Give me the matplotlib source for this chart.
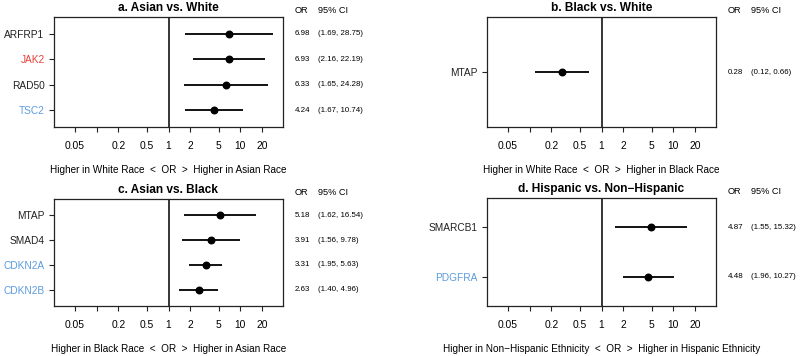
import matplotlib
matplotlib.use("Agg")
import matplotlib.pyplot as plt
import numpy as np

plt.rcParams["font.family"] = ["Liberation Sans", "DejaVu Sans"]

RED = "#e8413a"
BLUE = "#5b9be0"

# panel a
a_genes = ["ARFRP1", "JAK2", "RAD50", "TSC2"]
a_or = [6.98, 6.93, 6.33, 4.24]
a_lo = [1.69, 2.16, 1.65, 1.67]
a_hi = [28.75, 22.19, 24.28, 10.74]
a_colors = ["#222222", RED, "#222222", BLUE]

# panel b
b_genes = ["MTAP"]
b_or = [0.28]
b_lo = [0.12]
b_hi = [0.66]
b_colors = ["#222222"]

# panel c
c_genes = ["MTAP", "SMAD4", "CDKN2A", "CDKN2B"]
c_or = [5.18, 3.91, 3.31, 2.63]
c_lo = [1.62, 1.56, 1.95, 1.40]
c_hi = [16.54, 9.78, 5.63, 4.96]
c_colors = ["#222222", "#222222", BLUE, BLUE]

# panel d
d_genes = ["SMARCB1", "PDGFRA"]
d_or = [4.87, 4.48]
d_lo = [1.55, 1.96]
d_hi = [15.32, 10.27]
d_colors = ["#222222", BLUE]

x_ticks = [0.05, 0.1, 0.2, 0.5, 1, 2, 5, 10, 20]
x_tick_labels = ["0.05", "", "0.2", "0.5", "1", "2", "5", "10", "20"]

panels = [
    ("a. Asian vs. White", "Higher in White Race  <  OR  >  Higher in Asian Race",
     a_genes, a_or, a_lo, a_hi, a_colors, (54, 17, 127)),
    ("b. Black vs. White", "Higher in White Race  <  OR  >  Higher in Black Race",
     b_genes, b_or, b_lo, b_hi, b_colors, (487, 17, 127)),
    ("c. Asian vs. Black", "Higher in Black Race  <  OR  >  Higher in Asian Race",
     c_genes, c_or, c_lo, c_hi, c_colors, (54, 199, 306)),
    ("d. Hispanic vs. Non\u2212Hispanic",
     "Higher in Non\u2212Hispanic Ethnicity  <  OR  >  Higher in Hispanic Ethnicity",
     d_genes, d_or, d_lo, d_hi, d_colors, (487, 198, 306)),
]

W, H = 800, 356
fig = plt.figure(figsize=(W / 100, H / 100), dpi=100)
ax_w = 229

for title, xlabel, genes, ors, los, his, colors, (left, top, bottom) in panels:
    ax = fig.add_axes([left / W, 1 - bottom / H, ax_w / W, (bottom - top) / H])
    n = len(genes)
    ypos = np.arange(n, 0, -1)
    ax.hlines(ypos, los, his, color="black", lw=1.3)
    ax.plot(ors, ypos, "o", color="black", markersize=4.7)
    ax.axvline(1, color="black", lw=1.1)
    ax.set_xscale("log")
    ax.set_xlim(1 / 39.2, 39.2)
    pad = {1: 1.0, 2: 0.6, 4: 0.65}[n]
    ax.set_ylim(1 - pad, n + pad)
    ax.set_xticks(x_ticks)
    ax.set_xticklabels(x_tick_labels, fontsize=7.4)
    ax.xaxis.set_minor_locator(matplotlib.ticker.NullLocator())
    ax.set_yticks(ypos)
    ax.set_yticklabels(genes, fontsize=7.3)
    for lab, c in zip(ax.get_yticklabels(), colors):
        lab.set_color(c)
    ax.tick_params(axis="both", length=3.8, width=0.8, color="#222222")
    ax.tick_params(axis="x", pad=6.5)
    ax.tick_params(axis="y", pad=3)
    for s in ax.spines.values():
        s.set_linewidth(0.9)
        s.set_color("#222222")
    ax.set_title(title, fontsize=8.6, fontweight="bold", pad=4)
    ax.set_xlabel(xlabel, fontsize=7.2, labelpad=10)

    # OR / CI columns
    tr = matplotlib.transforms.blended_transform_factory(ax.transAxes, ax.transData)
    ax.text(1.052, 1.06, "OR", transform=ax.transAxes, fontsize=6.6, va="center")
    ax.text(1.153, 1.06, "95% CI", transform=ax.transAxes, fontsize=6.6, va="center")
    for y, o, lo, hi in zip(ypos, ors, los, his):
        ax.text(1.052, y, f"{o:.2f}", transform=tr, fontsize=5.7, va="center")
        ax.text(1.153, y, f"({lo:.2f}, {hi:.2f})", transform=tr, fontsize=5.7, va="center")

fig.savefig("out.png", dpi=100)
